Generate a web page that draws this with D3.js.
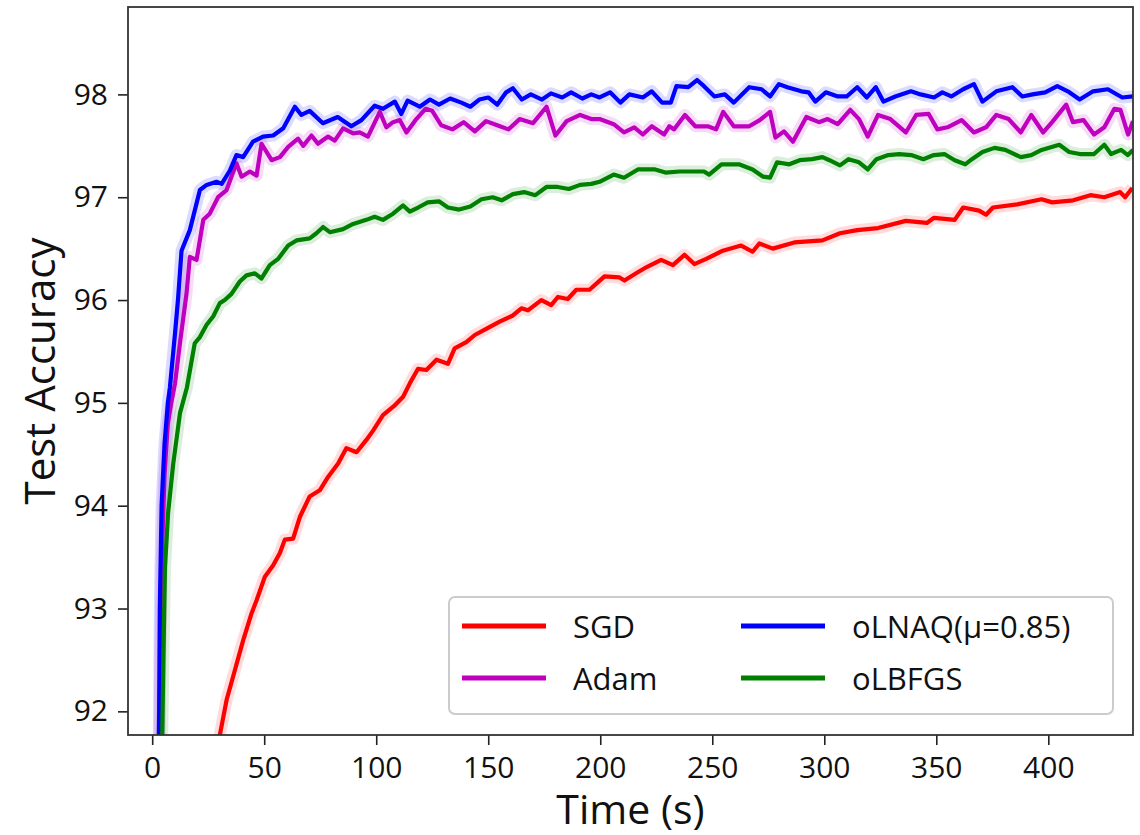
<!DOCTYPE html>
<html>
<head>
<meta charset="utf-8">
<script src="https://cdn.jsdelivr.net/npm/d3@7"></script>
<style>
  body { margin: 0; background: #fff; }
  text { font-family: "Open Sans", "DejaVu Sans", sans-serif; fill: #111; }
</style>
</head>
<body>
<div id="chart"></div>
<script>
// series: [time (s), test accuracy]
var sgd = [[28.5,91.5],[30.2,91.77],[33.2,92.11],[36.9,92.40],[40.6,92.69],[44.3,92.95],[46.6,93.08],[50.3,93.31],[54,93.42],[57,93.54],[59.2,93.67],[62.9,93.68],[65.9,93.89],[70.3,94.09],[74.8,94.15],[78.5,94.28],[83,94.41],[86.7,94.56],[91.2,94.52],[95.6,94.64],[98.6,94.73],[103,94.88],[108,94.97],[112,95.06],[115,95.19],[118.6,95.33],[122.4,95.32],[126.9,95.42],[132,95.38],[135,95.53],[140.2,95.59],[144,95.66],[149.1,95.72],[155.1,95.79],[161,95.85],[164.8,95.92],[167.7,95.90],[173.7,96.00],[178.1,95.95],[181.1,96.03],[185.5,96.01],[189.3,96.10],[195.2,96.10],[201.9,96.23],[208.6,96.22],[210.8,96.19],[216,96.26],[219.8,96.31],[227.2,96.39],[232.4,96.34],[237.6,96.44],[242,96.35],[247.3,96.40],[254.7,96.48],[262.9,96.53],[268,96.47],[271,96.55],[277,96.50],[286.6,96.56],[299.2,96.58],[307,96.65],[314.7,96.68],[324,96.70],[336.4,96.77],[345.8,96.75],[349,96.80],[358.2,96.78],[362,96.90],[369.1,96.87],[372.2,96.83],[375.3,96.90],[386.1,96.93],[397,96.98],[401.7,96.95],[411.1,96.97],[418.8,97.02],[425,97.00],[432.1,97.05],[434.3,97.00],[437.5,97.09]];

var adam = [[3.2,91.5],[3.6,92.5],[4.3,93.5],[5.5,94.3],[7,94.8],[8.5,95.0],[10.2,95.19],[12.5,95.6],[15.3,96.06],[16.8,96.42],[19.8,96.39],[22.8,96.78],[25.7,96.84],[29.4,97.0],[33.2,97.07],[37.6,97.33],[39.9,97.2],[43.6,97.25],[46.6,97.21],[48.8,97.52],[53.3,97.36],[57,97.39],[60.7,97.49],[65.1,97.57],[67.4,97.5],[71.1,97.6],[74,97.52],[78.5,97.59],[81.5,97.55],[85.2,97.67],[89.7,97.62],[92.6,97.63],[96.3,97.59],[101.6,97.83],[104.5,97.68],[107.5,97.73],[110.5,97.75],[113.5,97.63],[117.9,97.76],[122,97.86],[125,97.84],[129,97.70],[134,97.66],[139,97.73],[144,97.64],[149,97.74],[154,97.70],[159,97.66],[164,97.76],[170,97.72],[176,97.88],[180,97.60],[185,97.74],[191,97.80],[196,97.76],[199.7,97.76],[206,97.71],[210.6,97.63],[215.2,97.68],[219,97.61],[223,97.69],[228.5,97.61],[230.8,97.69],[233,97.66],[237.8,97.80],[242.4,97.69],[248,97.69],[251.7,97.66],[254.9,97.83],[259.6,97.69],[266.5,97.69],[271.2,97.75],[275.8,97.83],[278.2,97.58],[282,97.64],[286,97.54],[292,97.78],[297.6,97.73],[301.5,97.76],[306,97.71],[311.6,97.85],[315.5,97.76],[319.4,97.59],[324,97.80],[329.5,97.76],[336.4,97.63],[341,97.80],[346.6,97.81],[350.5,97.66],[355,97.68],[361.3,97.75],[366.8,97.63],[372.2,97.68],[376.8,97.80],[382.3,97.76],[387.7,97.63],[392.4,97.80],[397.7,97.63],[401.7,97.73],[408,97.90],[411,97.73],[415.7,97.75],[420.4,97.61],[425,97.68],[429.5,97.86],[432.2,97.85],[435.6,97.61],[437.8,97.74]];

var olnaq = [[2.8,91.5],[3.1,92],[3.4,93],[4.2,94],[5.5,94.6],[7,95],[7.9,95.15],[10.2,95.68],[11.5,96.0],[13.1,96.48],[16.8,96.68],[21.3,97.07],[24.3,97.12],[28.7,97.15],[31,97.13],[34.7,97.26],[37.6,97.41],[40.6,97.39],[45,97.54],[49.5,97.59],[54,97.60],[58.5,97.67],[63.7,97.88],[66.6,97.80],[70.3,97.84],[76.2,97.72],[82.8,97.78],[88.9,97.69],[93.4,97.75],[99.3,97.89],[103,97.86],[108.3,97.93],[111.2,97.81],[114,97.94],[119.4,97.88],[124,97.95],[128,97.90],[133,97.96],[138,97.92],[142,97.88],[146,97.95],[150,97.97],[154,97.90],[158,98.02],[161,98.06],[165,97.95],[169,98.0],[174,97.95],[178,98.01],[183,97.97],[187,98.02],[192,97.96],[196,98.0],[199.7,97.97],[204.4,98.02],[209,97.92],[213,98.0],[219,97.97],[223,98.03],[227.6,97.92],[231.5,97.92],[234,98.08],[239.3,98.07],[243.2,98.14],[246.3,98.08],[251,97.98],[255.6,98.0],[259.6,97.92],[266.5,98.07],[272,98.05],[275.8,97.98],[279.7,98.1],[283.5,98.07],[289.8,98.03],[293,98.02],[296,97.93],[300.7,98.02],[306,97.98],[310,97.98],[314.7,98.07],[319,97.97],[323,98.07],[326.4,97.93],[331.7,97.98],[338.7,98.03],[343,98.0],[349,97.97],[352.7,98.02],[356.7,97.98],[362,98.05],[366.8,98.1],[370.6,97.93],[376.8,98.03],[384,98.07],[388.4,97.98],[393,98.0],[398.6,98.02],[404,98.08],[408.7,98.03],[414,97.95],[420,98.03],[426.6,98.05],[433,97.97],[437.8,97.98]];

var olbfgs = [[4.3,91.5],[5.0,92.5],[5.7,93.4],[7.1,93.93],[9.4,94.41],[12.4,94.9],[15.5,95.15],[19,95.58],[21.3,95.64],[24.3,95.76],[27.2,95.84],[30.2,95.97],[32.4,96.0],[35.4,96.06],[39.1,96.18],[42.1,96.24],[45.8,96.26],[48.8,96.21],[52.5,96.34],[56.2,96.40],[60.7,96.53],[64.4,96.58],[70.3,96.60],[73.3,96.65],[76.3,96.71],[79.3,96.66],[85.2,96.69],[89.7,96.74],[95.6,96.78],[99.3,96.81],[103,96.78],[107.5,96.84],[112,96.92],[115,96.86],[118.7,96.90],[123,96.95],[128,96.96],[132,96.90],[137,96.88],[142,96.91],[147,96.98],[152,97.0],[156,96.97],[161,97.03],[166,97.05],[171,97.02],[176,97.10],[181,97.10],[186,97.08],[191,97.12],[196,97.13],[199.7,97.15],[206,97.22],[210.6,97.19],[216.8,97.27],[224.5,97.27],[229.1,97.24],[235.4,97.25],[241.6,97.25],[246.3,97.25],[248.6,97.22],[254.1,97.32],[261.9,97.32],[268,97.27],[272.7,97.20],[275.8,97.19],[278.9,97.34],[284.4,97.32],[289,97.36],[294.5,97.37],[299.2,97.39],[302.3,97.36],[307,97.31],[310.8,97.37],[315.5,97.34],[319.4,97.27],[323.3,97.37],[328.6,97.41],[333.4,97.42],[338.8,97.41],[344.2,97.37],[348.9,97.41],[353.6,97.42],[358.2,97.36],[362.9,97.32],[365.9,97.37],[370.6,97.44],[376,97.48],[380.8,97.46],[387.7,97.39],[392.4,97.41],[397,97.46],[404.9,97.51],[409.3,97.44],[414.1,97.42],[420.4,97.42],[425,97.51],[428,97.42],[432.5,97.46],[435.5,97.41],[437.8,97.46]];

var seriesNames = ["SGD", "Adam", "oLNAQ(\u03bc=0.85)", "oLBFGS"];
var seriesColors = ["#ff0000", "#bf00bf", "#0000ff", "#008000"];
var xTicks = [0, 50, 100, 150, 200, 250, 300, 350, 400];
var yTicks = [92, 93, 94, 95, 96, 97, 98];

var width = 1140, height = 835;
var margin = { top: 7, right: 7, bottom: 100, left: 128 };
var plotW = width - margin.left - margin.right;
var plotH = height - margin.top - margin.bottom;

var svg = d3.select("#chart").append("svg")
  .attr("width", width)
  .attr("height", height);

var g = svg.append("g")
  .attr("transform", "translate(" + margin.left + "," + margin.top + ")");

var x = d3.scaleLinear().domain([-10.8, 437.8]).range([0, plotW]);
var y = d3.scaleLinear().domain([91.77, 98.85]).range([plotH, 0]);

g.append("clipPath").attr("id", "clip")
  .append("rect").attr("width", plotW).attr("height", plotH);

var line = d3.line()
  .x(function (d) { return x(d[0]); })
  .y(function (d) { return y(d[1]); });

// draw order matches the reference: SGD, Adam, oLNAQ, oLBFGS
var allSeries = [sgd, adam, olnaq, olbfgs];
var curves = g.append("g").attr("clip-path", "url(#clip)");

// faint halo standing in for the raw (unsmoothed) runs
allSeries.forEach(function (s, i) {
  curves.append("path")
    .datum(s)
    .attr("d", line)
    .attr("fill", "none")
    .attr("stroke", seriesColors[i])
    .attr("stroke-opacity", 0.14)
    .attr("stroke-width", 12)
    .attr("stroke-linejoin", "round");
});

allSeries.forEach(function (s, i) {
  curves.append("path")
    .datum(s)
    .attr("d", line)
    .attr("fill", "none")
    .attr("stroke", seriesColors[i])
    .attr("stroke-width", 4.2)
    .attr("stroke-linejoin", "round");
});

// axes
var xAxis = g.append("g")
  .attr("transform", "translate(0," + plotH + ")")
  .call(d3.axisBottom(x).tickValues(xTicks).tickSize(10).tickSizeOuter(0).tickPadding(12));

var yAxis = g.append("g")
  .call(d3.axisLeft(y).tickValues(yTicks).tickSize(10).tickSizeOuter(0).tickPadding(10));

[xAxis, yAxis].forEach(function (a) {
  a.selectAll("text").style("font-size", "30px").attr("fill", "#111");
  a.selectAll("line").attr("stroke", "#222").attr("stroke-width", 1.6);
  a.select(".domain").remove();
});

// frame
g.append("rect")
  .attr("width", plotW)
  .attr("height", plotH)
  .attr("fill", "none")
  .attr("stroke", "#333")
  .attr("stroke-width", 1.8);

// axis labels
svg.append("text")
  .attr("x", margin.left + plotW / 2)
  .attr("y", 824)
  .attr("text-anchor", "middle")
  .style("font-size", "41px")
  .text("Time (s)");

svg.append("text")
  .attr("transform", "translate(55," + (margin.top + plotH / 2) + ") rotate(-90)")
  .attr("text-anchor", "middle")
  .style("font-size", "42px")
  .text("Test Accuracy");

// legend
var legend = svg.append("g").attr("transform", "translate(449,597)");
legend.append("rect")
  .attr("width", 664)
  .attr("height", 117)
  .attr("rx", 6)
  .attr("fill", "#fff")
  .attr("fill-opacity", 0.8)
  .attr("stroke", "#cccccc")
  .attr("stroke-width", 2);

var cols = [0, 0, 1, 1], rows = [0, 1, 0, 1];
seriesNames.forEach(function (name, i) {
  var item = legend.append("g")
    .attr("transform", "translate(" + (13 + cols[i] * 279) + "," + (29 + rows[i] * 52) + ")");
  item.append("line")
    .attr("x1", 0).attr("x2", 84)
    .attr("stroke", seriesColors[i])
    .attr("stroke-width", 5);
  item.append("text")
    .attr("x", 111)
    .attr("y", 12)
    .style("font-size", "31px")
    .text(name);
});
</script>
</body>
</html>
